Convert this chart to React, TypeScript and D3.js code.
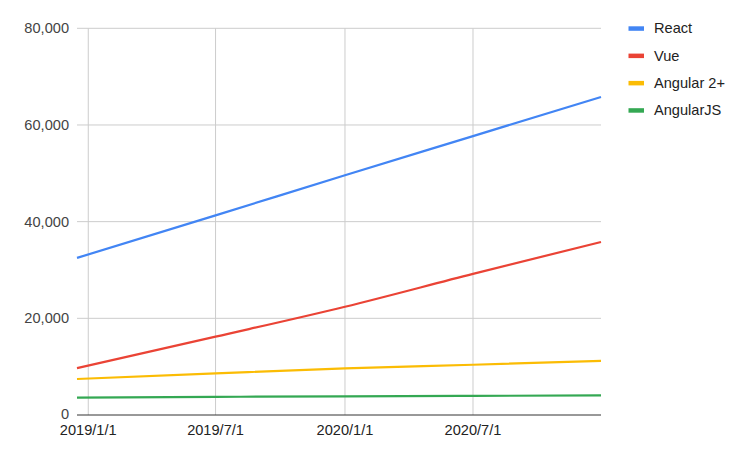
import React from "react";
import * as d3 from "d3";

const dates = ["2018-12-16", "2019-07-01", "2020-01-01", "2020-07-01", "2020-12-30"];
const seriesNames = ["React", "Vue", "Angular 2+", "AngularJS"];
const reactValues = [32500, 41300, 49600, 57700, 65800];
const vueValues = [9700, 16200, 22400, 29200, 35800];
const angular2Values = [7450, 8620, 9650, 10400, 11200];
const angularJSValues = [3600, 3750, 3850, 3950, 4050];
const colors = ["#4285f4", "#ea4335", "#fbbc04", "#34a853"];
const yTicks = [0, 20000, 40000, 60000, 80000];
const xTicks = ["2019-01-01", "2019-07-01", "2020-01-01", "2020-07-01"];

const parse = d3.timeParse("%Y-%m-%d");

export default function App() {
  const width = 736;
  const height = 451;
  const left = 77;
  const right = 601;
  const top = 28.3;
  const bottom = 415;

  const x = d3
    .scaleTime()
    .domain([parse(dates[0])!, parse(dates[dates.length - 1])!])
    .range([left, right]);
  const y = d3.scaleLinear().domain([0, 80000]).range([bottom, top]);

  const allSeries = [reactValues, vueValues, angular2Values, angularJSValues];
  const line = d3
    .line<[Date, number]>()
    .x((d) => x(d[0]))
    .y((d) => y(d[1]))
    .curve(d3.curveMonotoneX);

  const fmt = d3.format(",");
  const xFmt = (d: Date) => `${d.getFullYear()}/${d.getMonth() + 1}/${d.getDate()}`;
  const font = "Arial, 'Liberation Sans', sans-serif";
  const fs = 14.6;

  return (
    <svg
      width={width}
      height={height}
      style={{ position: "absolute", left: 0, top: 0, background: "#fff" }}
      fontFamily={font}
    >
      {yTicks
        .filter((t) => t !== 0)
        .map((t) => (
          <line key={"hy" + t} x1={left} x2={right} y1={y(t)} y2={y(t)} stroke="#cccccc" strokeWidth={1} />
        ))}
      {xTicks.map((t) => {
        const xx = x(parse(t)!);
        return <line key={"vx" + t} x1={xx} x2={xx} y1={top} y2={bottom} stroke="#cccccc" strokeWidth={1} />;
      })}
      {yTicks.map((t) => (
        <text
          key={"ty" + t}
          x={69}
          y={y(t) + (t === 0 ? 3.5 : 5)}
          textAnchor="end"
          fontSize={fs}
          fill="#444"
        >
          {fmt(t)}
        </text>
      ))}
      {xTicks.map((t) => {
        const d = parse(t)!;
        return (
          <text key={"tx" + t} x={x(d)} y={435} textAnchor="middle" fontSize={fs} fill="#222">
            {xFmt(d)}
          </text>
        );
      })}
      {allSeries.map((vals, i) => {
        const pts: [Date, number][] = vals.map((v, j) => [parse(dates[j])!, v]);
        return (
          <path key={"s" + i} d={line(pts) || ""} fill="none" stroke={colors[i]} strokeWidth={2.2} />
        );
      })}
      <line x1={left} x2={right} y1={bottom} y2={bottom} stroke="#333" strokeWidth={1} />
      {seriesNames.map((name, i) => {
        const ly = 28.3 + i * 27.3;
        return (
          <g key={"lg" + name}>
            <rect x={628.5} y={ly - 2} width={15.5} height={4.5} fill={colors[i]} />
            <text x={654} y={ly + 5} fontSize={fs} fill="#222">
              {name}
            </text>
          </g>
        );
      })}
    </svg>
  );
}
